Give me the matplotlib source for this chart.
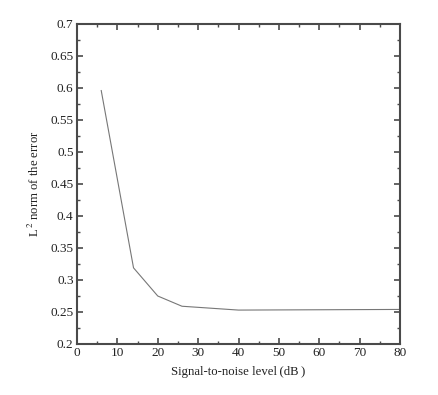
import matplotlib
matplotlib.use("Agg")
import matplotlib.pyplot as plt
from matplotlib.ticker import MultipleLocator

snr_db = [6, 14, 20, 26, 40, 80]
l2_error = [0.596, 0.319, 0.275, 0.259, 0.253, 0.254]

plt.rcParams["font.family"] = ["Liberation Serif", "DejaVu Serif"]
plt.rcParams["mathtext.fontset"] = "stix"

fig = plt.figure(figsize=(4.38, 3.95), dpi=100)
ax = fig.add_axes([77 / 438, 1 - 344 / 395, 323 / 438, 320 / 395])

ax.plot(snr_db, l2_error, color="#777777", linewidth=0.8)

ax.set_xlim(0, 80)
ax.set_ylim(0.2, 0.7)
ax.xaxis.set_major_locator(MultipleLocator(10))
ax.xaxis.set_minor_locator(MultipleLocator(5))
ax.yaxis.set_major_locator(MultipleLocator(0.05))
ax.yaxis.set_minor_locator(MultipleLocator(0.025))
ax.yaxis.set_major_formatter(plt.FuncFormatter(lambda v, p: f"{v:.2f}".rstrip("0")))

for s in ax.spines.values():
    s.set_color("#4a4a4a")
    s.set_linewidth(1.5)
ax.tick_params(which="both", direction="in", top=True, right=True,
               color="#4a4a4a", labelsize=9.5, labelcolor="#222222")
ax.tick_params(which="major", length=4, width=1.2, pad=2.5)
ax.tick_params(which="minor", length=2.5, width=1.0)

ax.set_xlabel("Signal-to-noise level\u2009(dB\u2009)", fontsize=9.2, color="#222222", labelpad=5)
ax.set_ylabel(r"L$^{\,2}$ norm of the error", fontsize=9.2, color="#222222", labelpad=6)

fig.savefig("out.png", dpi=100)
